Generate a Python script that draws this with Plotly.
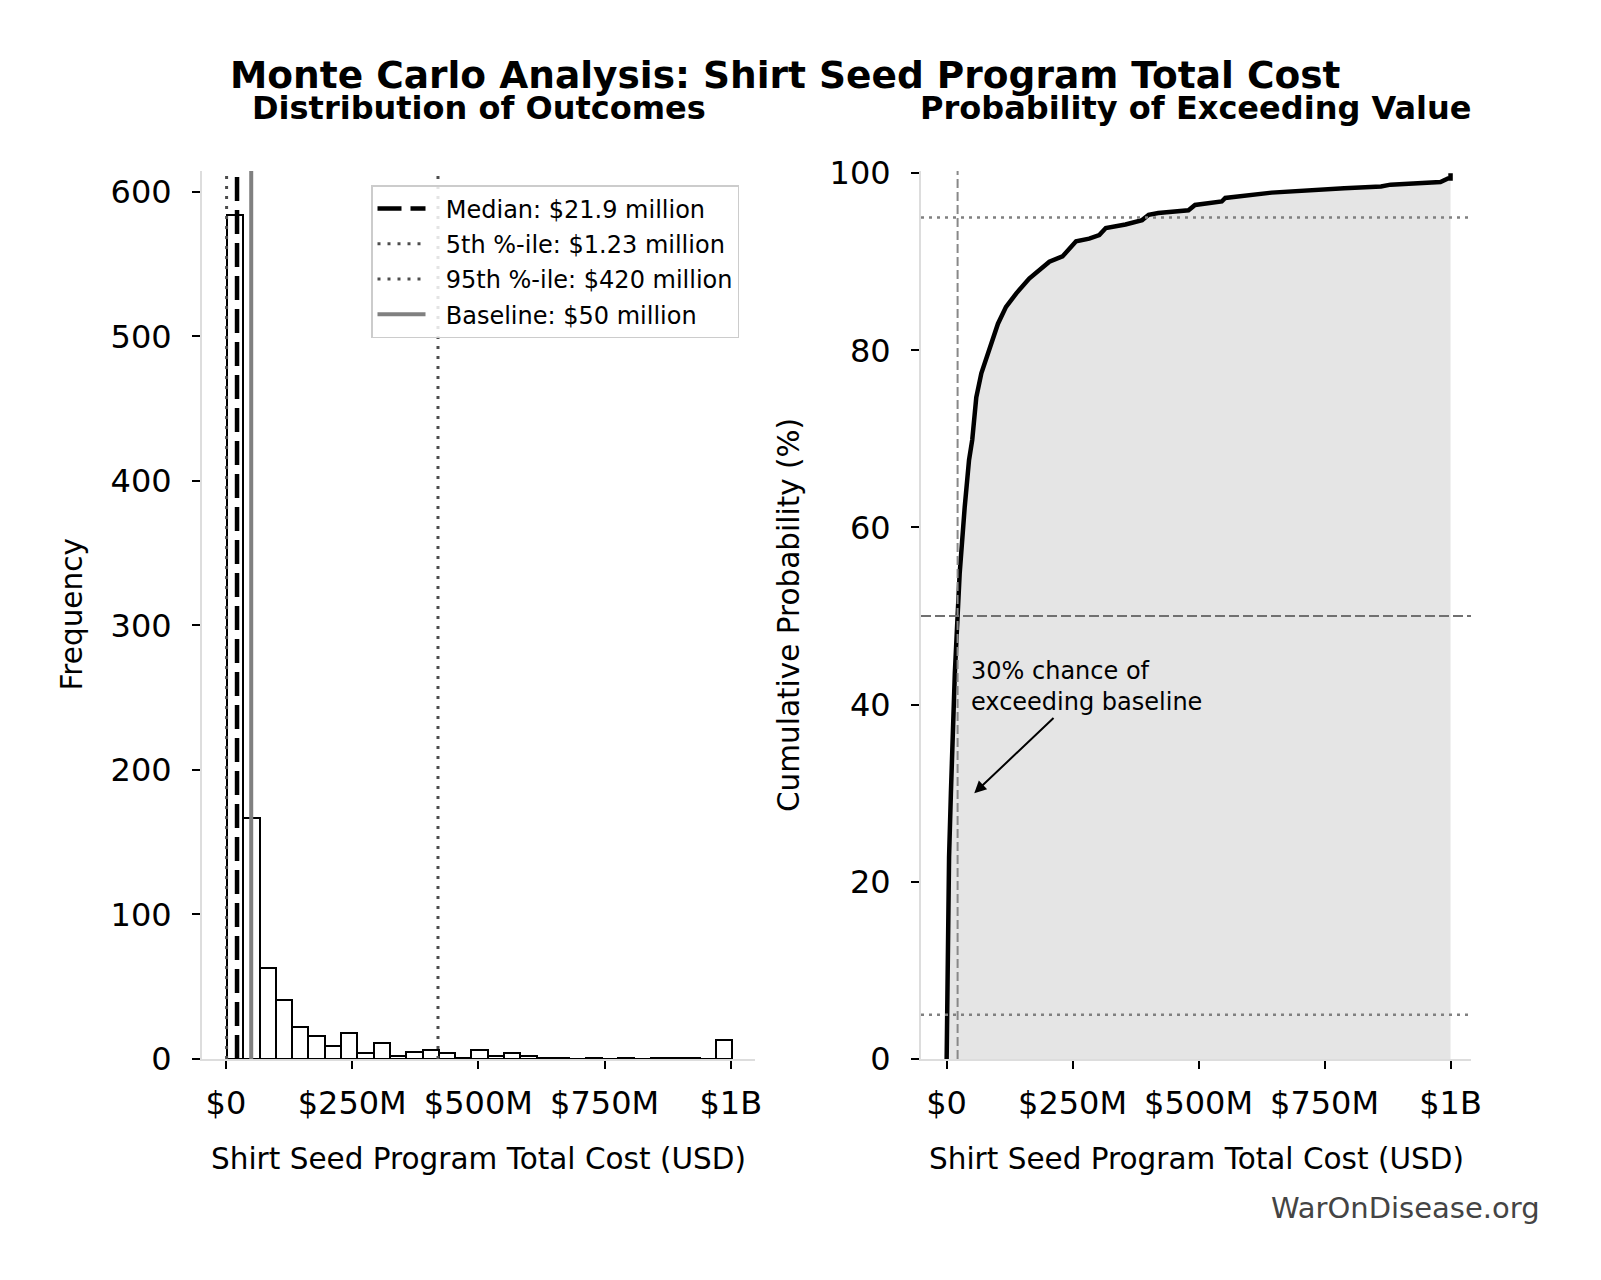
import numpy as np
import plotly.graph_objects as go

# histogram of simulated totals (USD millions), 31 bins
bin_edges_m = np.linspace(2, 1003, 32)
bin_counts = [584, 167, 63, 41, 22, 16, 9, 18, 4, 11, 2, 5, 6, 4, 1, 6,
              2, 4, 2, 1, 1, 0, 1, 0, 1, 0, 1, 1, 1, 0, 13]

# summary statistics (USD millions)
median_m = 21.9
p5_m = 1.23
p95_m = 420
baseline_m = 50

# cumulative curve
cdf_cost_m = [0.2, 1.23, 2.6, 5, 8.6, 11.8, 16.4, 21.9, 26, 36, 44.6, 51, 59, 69,
              85.5, 102, 118, 138, 164, 204, 230, 257, 283, 303, 316, 355, 388,
              401, 420, 480, 493, 546, 553, 592, 645, 789, 862, 881, 980, 995,
              1000, 1000]
cdf_pct = [0, 5, 13.4, 22.8, 30, 36, 43.5, 50, 54.8, 62.3, 67.6, 69.9, 74.7, 77.4,
           80.4, 83.0, 84.9, 86.4, 88.1, 90.0, 90.6, 92.3, 92.6, 93.0, 93.8, 94.2,
           94.7, 95.3, 95.5, 95.8, 96.4, 96.8, 97.2, 97.5, 97.8, 98.3, 98.5, 98.7,
           99.0, 99.4, 99.4, 100]

tick_vals = [0, 250, 500, 750, 1000]
tick_text = ['$0', '$250M', '$500M', '$750M', '$1B']

W, H = 1601, 1280
FONT = 'DejaVu Sans'
hist_top = 614.5
cdf_top = 100.24
PAD = '\u00a0\u00a0'  # gap between legend line and its label

centers = (bin_edges_m[:-1] + bin_edges_m[1:]) / 2
widths = np.diff(bin_edges_m)

fig = go.Figure()

fig.add_trace(go.Bar(
    x=centers, y=bin_counts, width=widths,
    marker=dict(color='white', line=dict(color='black', width=2)),
    showlegend=False, xaxis='x', yaxis='y'))

vlines = [
    (median_m, f'Median: ${median_m} million', dict(color='black', width=4.5, dash='24px,9px')),
    (p5_m, f'5th %-ile: ${p5_m} million', dict(color='#4d4d4d', width=3, dash='3px,7px')),
    (p95_m, f'95th %-ile: ${p95_m} million', dict(color='#4d4d4d', width=3, dash='3px,7px')),
    (baseline_m, f'Baseline: ${baseline_m} million', dict(color='#808080', width=4)),
]
for i, (val, label, style) in enumerate(vlines):
    fig.add_trace(go.Scatter(
        x=[val, val], y=[0, hist_top], mode='lines', line=style,
        name=PAD + label, legendgroup=f'g{i}', xaxis='x', yaxis='y'))

# right panel
fig.add_trace(go.Scatter(
    x=cdf_cost_m, y=cdf_pct, mode='lines', fill='tozeroy',
    fillcolor='#e5e5e5', line=dict(color='black', width=4.5),
    showlegend=False, xaxis='x2', yaxis='y2'))

ref_lines = [
    dict(type='line', xref='x2', yref='y2 domain', x0=median_m, x1=median_m, y0=0, y1=1,
         line=dict(color='#888888', width=2, dash='9px,4px')),
    dict(type='line', xref='x2 domain', yref='y2', x0=0, x1=1, y0=50, y1=50,
         line=dict(color='#707070', width=2, dash='10px,4px')),
    dict(type='line', xref='x2 domain', yref='y2', x0=0, x1=1, y0=5, y1=5,
         line=dict(color='#808080', width=2.5, dash='3px,5px')),
    dict(type='line', xref='x2 domain', yref='y2', x0=0, x1=1, y0=95, y1=95,
         line=dict(color='#808080', width=2.5, dash='3px,5px')),
]

axis_common = dict(
    showline=True, linecolor='#dddddd', linewidth=2, mirror=False,
    ticks='outside', ticklen=8, tickwidth=2, tickcolor='black',
    showgrid=False, zeroline=False, automargin=False,
    tickfont=dict(family=FONT, size=32, color='black'),
)

# pixel layout (page is drawn with an 8px offset)
x1_dom = [194 / W, 747 / W]
x2_dom = [913 / W, 1463 / W]
y_dom = [1 - 1051 / H, 1 - 163 / H]

fig.update_layout(
    width=W, height=H,
    margin=dict(l=0, r=0, t=0, b=0, pad=0, autoexpand=False),
    paper_bgcolor='white', plot_bgcolor='white',
    font=dict(family=FONT, color='black'),
    bargap=0,
    xaxis=dict(domain=x1_dom, range=[-47.5, 1048], tickvals=tick_vals, ticktext=tick_text,
               anchor='y', ticklabelstandoff=7, **axis_common),
    yaxis=dict(domain=y_dom, range=[0, hist_top], tickvals=[0, 100, 200, 300, 400, 500, 600],
               anchor='x', ticklabelstandoff=14, **axis_common),
    xaxis2=dict(domain=x2_dom, range=[-50.7, 1040.6], tickvals=tick_vals, ticktext=tick_text,
                anchor='y2', ticklabelstandoff=7, **axis_common),
    yaxis2=dict(domain=y_dom, range=[0, cdf_top], tickvals=[0, 20, 40, 60, 80, 100],
                anchor='x2', ticklabelstandoff=14, **axis_common),
    legend=dict(x=363 / W, y=1 - 177 / H, xanchor='left', yanchor='top',
                bgcolor='rgba(255,255,255,0.85)', bordercolor='#cccccc', borderwidth=1.5,
                font=dict(family=FONT, size=24, color='black'), tracegroupgap=1,
                itemwidth=48),
    shapes=ref_lines,
)

texts = [
    dict(text='<b>Monte Carlo Analysis: Shirt Seed Program Total Cost</b>',
         x=777 / W, y=1 - 66.5 / H, size=37.5),
    dict(text='<b>Distribution of Outcomes</b>', x=470.5 / W, y=1 - 100 / H, size=32),
    dict(text='<b>Probability of Exceeding Value</b>', x=1188 / W, y=1 - 100 / H, size=32),
    dict(text='Shirt Seed Program Total Cost (USD)', x=470.5 / W, y=1 - 1151 / H, size=29.5),
    dict(text='Shirt Seed Program Total Cost (USD)', x=1188 / W, y=1 - 1151 / H, size=29.5),
]
for t in texts:
    fig.add_annotation(text=t['text'], x=t['x'], y=t['y'], xref='paper', yref='paper',
                       xanchor='center', yanchor='middle', showarrow=False,
                       font=dict(family=FONT, size=t['size'], color='black'))

fig.add_annotation(text='Frequency', x=63.5 / W, y=1 - 607 / H, xref='paper', yref='paper',
                   xanchor='center', yanchor='middle', textangle=-90, showarrow=False,
                   font=dict(family=FONT, size=29.5, color='black'))
fig.add_annotation(text='Cumulative Probability (%)', x=781 / W, y=1 - 607 / H,
                   xref='paper', yref='paper', xanchor='center', yanchor='middle',
                   textangle=-90, showarrow=False,
                   font=dict(family=FONT, size=29.5, color='black'))
fig.add_annotation(text='WarOnDisease.org', x=1534 / W, y=1 - 1200 / H, xref='paper',
                   yref='paper', xanchor='right', yanchor='middle', showarrow=False,
                   font=dict(family=FONT, size=29, color='#444444'))

fig.add_annotation(text='30% chance of<br>exceeding baseline', align='left',
                   x=55, y=30, xref='x2', yref='y2',
                   ax=277, ay=42.0, axref='x2', ayref='y2',
                   showarrow=True, arrowhead=2, arrowsize=1.2, arrowwidth=2,
                   arrowcolor='black', font=dict(family=FONT, size=24, color='black'))

fig.write_html("out.html")
